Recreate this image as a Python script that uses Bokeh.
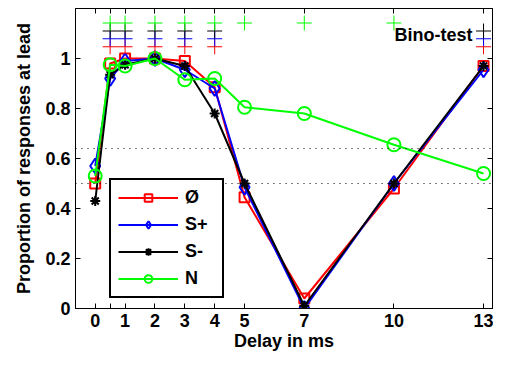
from bokeh.plotting import figure
from bokeh.models import FixedTicker, LinearAxis, Span, Range1d, Legend
from bokeh.embed import file_html
from bokeh.resources import INLINE
from bokeh.core.properties import value

delays = [0, 0.5, 1, 2, 3, 4, 5, 7, 10, 13]
red_vals = [0.50, 0.98, 1.00, 1.00, 0.99, 0.885, 0.445, 0.04, 0.48, 0.97]
blue_vals = [0.57, 0.92, 0.99, 1.00, 0.955, 0.88, 0.485, 0.0, 0.50, 0.955]
black_vals = [0.43, 0.935, 0.975, 1.00, 0.97, 0.78, 0.50, 0.01, 0.50, 0.97]
green_vals = [0.53, 0.975, 0.97, 1.00, 0.915, 0.92, 0.805, 0.78, 0.655, 0.54]

series_names = ["Ø", "S+", "S-", "N"]
x_tick_values = [0, 0.5, 1, 2, 3, 4, 5, 7, 10, 13]
x_tick_labels = ["0", "", "1", "2", "3", "4", "5", "7", "10", "13"]
y_tick_values = [0, 0.2, 0.4, 0.6, 0.8, 1.0]
y_tick_labels = ["0", "0.2", "0.4", "0.6", "0.8", "1"]
chance_levels = [0.5, 0.64]

# Binomial-test significance markers (delays where significant), one row per series
sig_red = [0.5, 1, 2, 3, 4, 13]
sig_blue = [0.5, 1, 2, 3, 4, 13]
sig_black = [0.5, 1, 2, 3, 4, 13]
sig_green = [0.5, 1, 2, 3, 4, 5, 7, 10]
sig_rows = [1.047, 1.079, 1.110, 1.142]

FONT = "Liberation Sans"
RED, BLUE, BLACK, GREEN = "#ff0000", "#0000ff", "#000000", "#00ff00"

p = figure(width=493, height=353, output_backend="svg", toolbar_location=None,
           x_range=Range1d(-0.66, 13.3), y_range=Range1d(0, 1.2),
           min_border_left=75, min_border_right=1, min_border_top=8, min_border_bottom=40)
p.background_fill_color = "white"
p.border_fill_color = "white"
p.outline_line_color = "black"
p.outline_line_width = 1
p.grid.visible = False

for lvl in chance_levels:
    p.add_layout(Span(location=lvl, dimension="width", line_color="black",
                      line_width=1, line_dash="1 5"))

legend_items = []
specs = [
    (red_vals, RED, "square", 10, series_names[0]),
    (blue_vals, BLUE, "diamond", 15, series_names[1]),
    (black_vals, BLACK, "asterisk", 10, series_names[2]),
    (green_vals, GREEN, "circle", 13, series_names[3]),
]
for vals, col, mk, sz, name in specs:
    r1 = p.line(delays, vals, line_color=col, line_width=2)
    r2 = p.scatter(delays, vals, marker=mk, size=sz, line_color=col,
                   fill_color=None, line_width=2)
    legend_items.append((name, [r1, r2]))

for sig, col, row in [(sig_red, RED, sig_rows[0]), (sig_blue, BLUE, sig_rows[1]),
                      (sig_black, BLACK, sig_rows[2]), (sig_green, GREEN, sig_rows[3])]:
    p.scatter(sig, [row] * len(sig), marker="cross", size=15, line_color=col, line_width=1)

p.text(x=[13], y=[1.096], text=["Bino-test"], text_font=value(FONT),
       text_font_style="bold", text_font_size="18px", text_align="right",
       text_baseline="middle", x_offset=-11, text_color="black")

legend = Legend(items=legend_items, location=(34, 10))
legend.glyph_width = 60
legend.glyph_height = 19
legend.label_height = 19
legend.label_width = 30
legend.spacing = 6
legend.padding = 7
legend.margin = 0
legend.label_standoff = 7
legend.label_text_font = FONT
legend.label_text_font_style = "bold"
legend.label_text_font_size = "18px"
legend.label_text_color = "black"
legend.border_line_color = "black"
legend.border_line_width = 2
legend.border_line_alpha = 1
legend.background_fill_alpha = 1
p.add_layout(legend, "center")

# primary axes
xa = p.xaxis[0]
xa.ticker = FixedTicker(ticks=x_tick_values)
xa.major_label_overrides = {v: l for v, l in zip(x_tick_values, x_tick_labels)}
ya = p.yaxis[0]
ya.ticker = FixedTicker(ticks=y_tick_values)
ya.major_label_overrides = {v: l for v, l in zip(y_tick_values, y_tick_labels)}
xa.axis_label = "Delay in ms"
ya.axis_label = "Proportion of responses at lead"
for ax in (xa, ya):
    ax.major_tick_in = 5
    ax.major_tick_out = 0
    ax.minor_tick_line_color = None
    ax.major_label_text_font = FONT
    ax.major_label_text_font_style = "bold"
    ax.major_label_text_font_size = "18px"
    ax.major_label_text_color = "black"
    ax.axis_label_text_font = FONT
    ax.axis_label_text_font_style = "bold"
    ax.axis_label_text_font_size = "18px"
    ax.axis_label_text_color = "black"
    ax.axis_line_color = "black"
    ax.major_tick_line_color = "black"
xa.major_label_standoff = 5
xa.axis_label_standoff = 1
ya.major_label_standoff = 5
ya.axis_label_standoff = 8

# mirrored axes (ticks only)
top = LinearAxis(ticker=FixedTicker(ticks=x_tick_values),
                 major_label_overrides={v: "" for v in x_tick_values})
right = LinearAxis(ticker=FixedTicker(ticks=y_tick_values),
                   major_label_overrides={v: "" for v in y_tick_values})
for ax in (top, right):
    ax.major_tick_in = 5
    ax.major_tick_out = 0
    ax.minor_tick_line_color = None
    ax.major_label_text_font_size = "0px"
    ax.major_label_standoff = 0
    ax.major_tick_line_color = "black"
    ax.axis_line_color = "black"
p.add_layout(top, "above")
p.add_layout(right, "right")

open("out.html", "w").write(file_html(p, INLINE))
